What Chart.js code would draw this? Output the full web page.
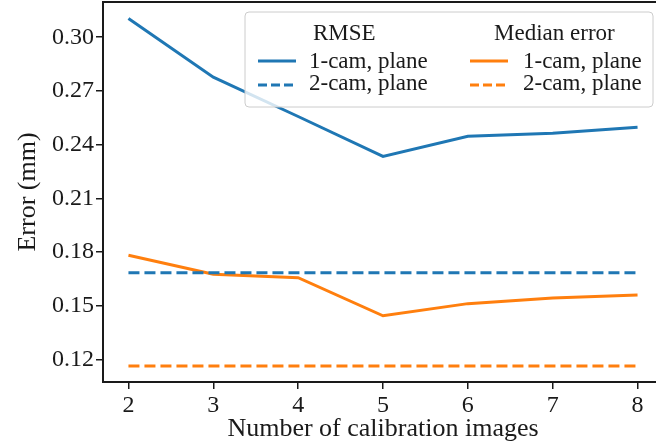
<!DOCTYPE html>
<html>
<head>
<meta charset="utf-8">
<script src="https://cdn.jsdelivr.net/npm/chart.js@4"></script>
<style>
  html, body { margin: 0; padding: 0; background: #fff; overflow: hidden; }
  #wrap { width: 663px; height: 446px; }
</style>
</head>
<body>
<div id="wrap"><canvas id="errChart" width="663" height="446"></canvas></div>
<script>
// values
const numImages = [2, 3, 4, 5, 6, 7, 8];
const rmseOneCam = [0.3105, 0.2777, 0.2557, 0.2334, 0.2447, 0.2463, 0.2497];
const rmseTwoCam = [0.1684, 0.1684, 0.1684, 0.1684, 0.1684, 0.1684, 0.1684];
const medianOneCam = [0.1781, 0.1675, 0.1656, 0.1443, 0.1511, 0.1543, 0.1559];
const medianTwoCam = [0.1163, 0.1163, 0.1163, 0.1163, 0.1163, 0.1163, 0.1163];
const yTicks = [0.12, 0.15, 0.18, 0.21, 0.24, 0.27, 0.30];

const BLUE = '#1f77b4';
const ORANGE = '#ff7f0e';
const INK = '#1a1a1a';
const FONT = '"Liberation Serif", "DejaVu Serif", serif';

const toPoints = (ys) => numImages.map((x, i) => ({ x: x, y: ys[i] }));

const makeSet = (label, group, ys, color, dashed) => ({
    label: label,
    group: group,
    data: toPoints(ys),
    borderColor: color,
    backgroundColor: color,
    borderWidth: 3,
    borderDash: dashed ? [11, 5] : [],
    pointRadius: 0,
    tension: 0,
    fill: false
});

// top spine + matplotlib-like two column legend with group headers
const framePlugin = {
    id: 'frame',
    afterDraw(chart) {
        const ctx = chart.ctx;
        const a = chart.chartArea;
        ctx.save();
        ctx.strokeStyle = INK;
        ctx.lineWidth = 2;
        ctx.beginPath();
        ctx.moveTo(a.left - 1, a.top);
        ctx.lineTo(a.right, a.top);
        ctx.stroke();

        // legend box
        const bx = 245, by = 12, bw = 408, bh = 95, r = 4;
        ctx.beginPath();
        ctx.moveTo(bx + r, by);
        ctx.arcTo(bx + bw, by, bx + bw, by + bh, r);
        ctx.arcTo(bx + bw, by + bh, bx, by + bh, r);
        ctx.arcTo(bx, by + bh, bx, by, r);
        ctx.arcTo(bx, by, bx + bw, by, r);
        ctx.closePath();
        ctx.fillStyle = 'rgba(255,255,255,0.8)';
        ctx.fill();
        ctx.strokeStyle = '#cccccc';
        ctx.lineWidth = 1;
        ctx.stroke();

        ctx.fillStyle = INK;
        ctx.font = '23px ' + FONT;
        ctx.textBaseline = 'alphabetic';
        ctx.textAlign = 'left';
        ctx.fillText('RMSE', 313, 40);
        ctx.fillText('Median error', 494, 40);

        const cols = [{ hx: 258, tx: 309 }, { hx: 470, tx: 523 }];
        const rows = [{ ly: 61, ty: 68 }, { ly: 85, ty: 90 }];
        chart.data.datasets.forEach((ds, i) => {
            const c = cols[ds.group];
            const rw = rows[i % 2];
            ctx.strokeStyle = ds.borderColor;
            ctx.lineWidth = 3;
            ctx.setLineDash(ds.borderDash.length ? [9, 4] : []);
            ctx.beginPath();
            ctx.moveTo(c.hx, rw.ly);
            ctx.lineTo(c.hx + 38, rw.ly);
            ctx.stroke();
            ctx.setLineDash([]);
            ctx.fillStyle = INK;
            ctx.fillText(ds.label, c.tx, rw.ty);
        });
        ctx.restore();
    }
};

const ctx = document.getElementById('errChart').getContext('2d');
new Chart(ctx, {
    type: 'line',
    data: {
        datasets: [
            makeSet('1-cam, plane', 0, rmseOneCam, BLUE, false),
            makeSet('2-cam, plane', 0, rmseTwoCam, BLUE, true),
            makeSet('1-cam, plane', 1, medianOneCam, ORANGE, false),
            makeSet('2-cam, plane', 1, medianTwoCam, ORANGE, true)
        ]
    },
    options: {
        responsive: false,
        animation: false,
        layout: { padding: { top: 2, right: 0, left: 0, bottom: 0 } },
        scales: {
            x: {
                type: 'linear',
                min: 1.7,
                max: 8.3,
                afterBuildTicks: (scale) => { scale.ticks = numImages.map(v => ({ value: v })); },
                afterFit: (scale) => {
                    scale.height = 64;
                    scale.paddingLeft = 0;
                    scale.paddingRight = 0;
                },
                ticks: {
                    color: INK,
                    font: { family: FONT, size: 24 },
                    padding: 2,
                    maxRotation: 0,
                    callback: (v) => String(v)
                },
                grid: { drawOnChartArea: false, drawTicks: true, tickLength: 7, color: INK, lineWidth: 1.5 },
                border: { display: true, color: INK, width: 2 },
                title: {
                    display: true,
                    text: 'Number of calibration images',
                    color: INK,
                    font: { family: FONT, size: 26 },
                    padding: { top: 0, bottom: 1 }
                }
            },
            y: {
                min: 0.1073,
                max: 0.3197,
                afterBuildTicks: (scale) => { scale.ticks = yTicks.map(v => ({ value: v })); },
                afterFit: (scale) => {
                    scale.width = 103;
                    scale.paddingTop = 0;
                    scale.paddingBottom = 0;
                },
                ticks: {
                    color: INK,
                    font: { family: FONT, size: 24 },
                    padding: 2,
                    callback: (v) => v.toFixed(2)
                },
                grid: { drawOnChartArea: false, drawTicks: true, tickLength: 7, color: INK, lineWidth: 1.5 },
                border: { display: true, color: INK, width: 2 },
                title: {
                    display: true,
                    text: 'Error (mm)',
                    color: INK,
                    font: { family: FONT, size: 26 },
                    padding: { top: 13, bottom: 0 }
                }
            }
        },
        plugins: {
            legend: { display: false },
            tooltip: { enabled: false }
        }
    },
    plugins: [framePlugin]
});
</script>
</body>
</html>
